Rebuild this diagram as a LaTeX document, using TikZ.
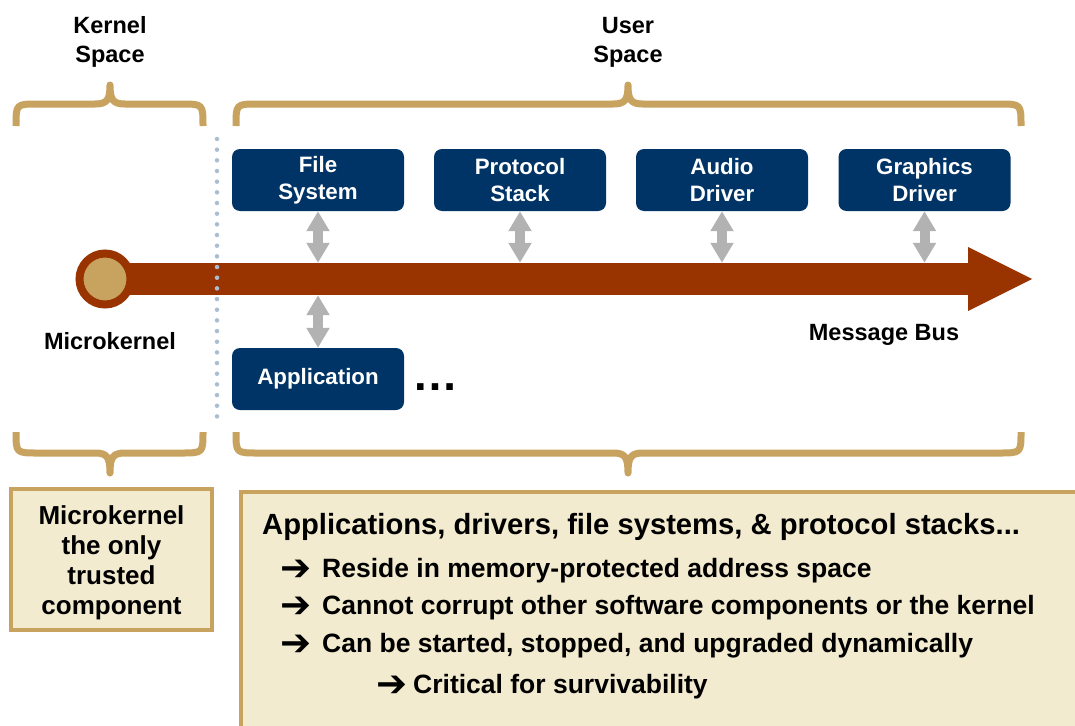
\documentclass[tikz,border=0pt]{standalone}
\usepackage{fontspec}
\setmainfont{Liberation Sans}
\newfontfamily\symfont{DejaVu Sans}
\usetikzlibrary{arrows.meta}
\definecolor{navy}{RGB}{0,52,102}
\definecolor{busbrown}{RGB}{153,51,0}
\definecolor{gold}{RGB}{200,163,96}
\definecolor{cream}{RGB}{243,235,207}
\definecolor{dotblue}{RGB}{170,190,210}
\definecolor{arrgray}{RGB}{178,178,178}
\newcommand\topbrace[3]{%
  \draw[brace] (#1,126) .. controls (#1,104) .. (#1+22,104) -- (#2-15,104)
    .. controls (#2-3,104) and (#2,100) .. (#2,85)
    .. controls (#2,100) and (#2+3,104) .. (#2+15,104) -- (#3-22,104)
    .. controls (#3,104) .. (#3,126);}
\newcommand\botbrace[3]{%
  \draw[brace] (#1,432) .. controls (#1,453) .. (#1+22,453) -- (#2-15,453)
    .. controls (#2-3,453) and (#2,457) .. (#2,473)
    .. controls (#2,457) and (#2+3,453) .. (#2+15,453) -- (#3-22,453)
    .. controls (#3,453) .. (#3,432);}
\newcommand\barrow{\raisebox{-3pt}{\fontsize{37}{30}\selectfont\symfont ➔}}
\begin{document}
\begin{tikzpicture}[x=1pt,y=-1pt,
  lbl/.style={font=\fontsize{23.5}{29}\selectfont\bfseries, align=center, inner sep=0pt},
  comp/.style={fill=navy, rounded corners=8pt, minimum width=172pt, minimum height=62pt,
    inner sep=0pt, text=white, font=\fontsize{22.3}{27}\selectfont\bfseries, align=center},
  brace/.style={draw=gold, line width=7pt, line join=round},
  link/.style={draw=arrgray, line width=10pt,
    {Triangle[width=22pt,length=20pt]}-{Triangle[width=22pt,length=20pt]}},
  infobox/.style={draw=gold, line width=4pt, fill=cream, inner sep=0pt},
  bullet/.style={anchor=base west, inner sep=0pt, font=\fontsize{26.5}{30}\selectfont\bfseries}]
\clip (0,0) rectangle (1075,725);
\fill[white] (0,0) rectangle (1075,725);

% labels
\node[lbl] (ks) at (110,42) {Kernel\\Space};
\node[lbl] (us) at (628,42) {User\\Space};

% braces
\topbrace{16}{110}{203}
\topbrace{236}{628}{1021}
\botbrace{16}{110}{203}
\botbrace{236}{628}{1021}

% message bus
\node[fill=busbrown, minimum width=865pt, minimum height=32pt, inner sep=0pt, anchor=west] (bus) at (105,279) {};
\fill[busbrown] (968,247) -- (1032,279) -- (968,311) -- cycle;
\node[circle, draw=busbrown, line width=8pt, fill=gold, minimum size=51pt, inner sep=0pt] (mk) at (105,279) {};

% divider
\draw[dotblue, line width=4.5pt, line cap=round, dash pattern=on 0pt off 10.67pt] (217,139) -- (217,422);

% components
\node[comp] (fs) at (318,180) {File\\System};
\node[comp] (ps) at (520,180) {Protocol\\Stack};
\node[comp] (ad) at (722,180) {Audio\\Driver};
\node[comp] (gd) at (924.5,180) {Graphics\\Driver};
\node[comp] (app) at (318,379) {Application};
\node[anchor=base west, inner sep=0pt, font=\fontsize{46}{46}\selectfont\bfseries] (dots) at (412,390) {…};

% links
\draw[link] (fs.south) -- (fs.south |- bus.north);
\draw[link] (ps.south) -- (ps.south |- bus.north);
\draw[link] (ad.south) -- (ad.south |- bus.north);
\draw[link] (gd.south) -- (gd.south |- bus.north);
\draw[link] (app.north) -- (app.north |- bus.south);

\node[lbl] (mkl) at (110,341) {Microkernel};
\node[lbl] (mb) at (884,335) {Message Bus};

% bottom boxes
\node[infobox, minimum width=201pt, minimum height=141pt] (trust) at (111.5,559.5) {};
\node[align=center, inner sep=0pt, font=\fontsize{26}{30}\selectfont\bfseries] (trusttxt) at (111.5,563)
  {Microkernel\\the only\\trusted\\component};
\node[infobox, anchor=north west, minimum width=900pt, minimum height=300pt] (panel) at (239,490) {};
\node[anchor=base west, inner sep=0pt, font=\fontsize{29.2}{30}\selectfont\bfseries] (head) at (262,534)
  {Applications, drivers, file systems, \& protocol stacks...};
\node[bullet] (b1) at (280,577) {\makebox[42pt][l]{\barrow}Reside in memory-protected address space};
\node[bullet] (b2) at (280,614) {\makebox[42pt][l]{\barrow}Cannot corrupt other software components or the kernel};
\node[bullet] (b3) at (280,652) {\makebox[42pt][l]{\barrow}Can be started, stopped, and upgraded dynamically};
\node[bullet] (b4) at (376,693) {\makebox[37pt][l]{\barrow}Critical for survivability};
\end{tikzpicture}
\end{document}
